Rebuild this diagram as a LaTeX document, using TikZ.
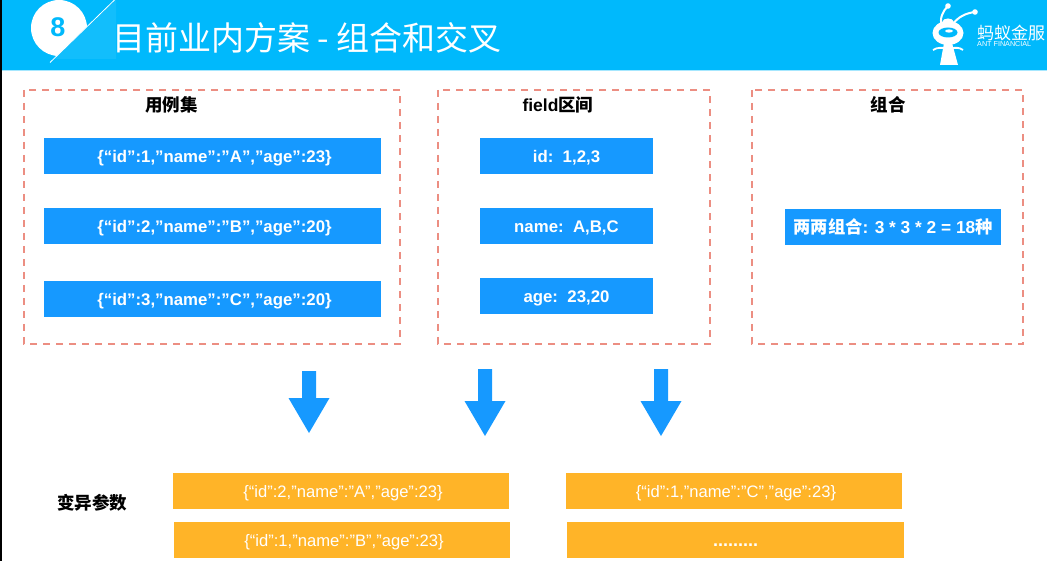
\documentclass[tikz,border=0pt]{standalone}
\usepackage{fontspec}
\setmainfont{Liberation Sans}
\newfontfamily\cjk{Noto Sans CJK SC}
\usepackage{xcolor}
\definecolor{headblue}{HTML}{00B9FC}
\definecolor{boxblue}{HTML}{1699FF}
\definecolor{boxorange}{HTML}{FFB428}
\definecolor{dashred}{HTML}{EC8E82}
\usetikzlibrary{positioning}

\begin{document}
\begin{tikzpicture}[
        x=1pt, y=-1pt,
        groupbox/.style={draw=dashred, dash pattern=on 7pt off 6pt, line width=1.1pt},
        grouptitle/.style={font=\fontsize{17.5}{18}\selectfont\bfseries\cjk, inner sep=0pt, text=black},
        bluebox/.style={fill=boxblue, text=white, minimum height=36pt, inner sep=0pt, text height=14pt, text depth=1pt, font=\fontsize{16.8}{18}\selectfont\bfseries},
        orangebox/.style={fill=boxorange, text=white, minimum height=36pt, minimum width=336pt, inner sep=0pt, text height=14pt, text depth=1pt, font=\fontsize{16.6}{18}\selectfont},
        jsontext/.style={execute at begin node=\hspace*{4pt}},
        downarrow/.style={fill=boxblue}
    ]
    \useasboundingbox (0,0) rectangle (1047,561);
    % header
    \fill[black] (0,0) rectangle (2.2,561);
    \fill[headblue] (2.2,0) rectangle (1047,70);
    \fill[headblue!35!white] (2.2,70) rectangle (1047,71.2);
    \fill[white!7!headblue] (54,59) -- (116,0) -- (116,59) -- cycle;
    \fill[white] (59,28) circle (28);
    \fill[white!7!headblue] (53.6,59) -- (87,26.6) -- (90,59) -- cycle;
    \draw[white, line width=.8pt] (50,62.5) -- (114.5,0);
    \node[inner sep=0pt, text=headblue, font=\fontsize{27}{27}\selectfont\bfseries] (secnum) at (58,27) {8};
    \node[anchor=west, inner sep=0pt, text=white, font=\fontsize{33}{34}\selectfont] (pagetitle) at (112,38)
        {\cjk 目前业内方案 - 组合和交叉};
    % logo
    \draw[white, line width=2pt, line cap=round] (942,27) .. controls (939,18) and (943,11) .. (948,6);
    \draw[white, line width=2pt, line cap=round] (953,24) .. controls (958,17) and (966,13) .. (975,12);
    \fill[white] (948,6) circle (2.8) (975,12) circle (2.8);
    \fill[white] (948,33) ellipse (15.5 and 12);
    \fill[white] (948,21.5) ellipse (5.5 and 3);
    \fill[headblue] (948,32.5) ellipse (9.5 and 5);
    \fill[white] (949,31) ellipse (4 and 1.6);
    \fill[white] (944,43) -- (952,43) -- (958,65) -- (940,65) -- cycle;
    \draw[white, line width=1.8pt] (933,50) .. controls (938,47) and (941,48) .. (946,48);
    \draw[white, line width=1.8pt] (963,50) .. controls (959,47) and (956,48) .. (951,48);
    \node[anchor=west, inner sep=0pt, text=white, font=\fontsize{17}{18}\selectfont\cjk] (logotext) at (977,33) {蚂蚁金服};
    \node[anchor=west, inner sep=0pt, text=white, font=\fontsize{7.2}{9}\selectfont] (logosub) at (977,44.5) {ANT FINANCIAL};
    % dashed groups
    \draw[groupbox] (24,90) rectangle (400,344);
    \draw[groupbox] (438,90) rectangle (710,344);
    \draw[groupbox] (752,90) rectangle (1023,344);
    \node[grouptitle] (casestitle) at (171.5,105) {用例集};
    \node[grouptitle] (fieldtitle) at (558,105) {\rmfamily\bfseries field\cjk 区间};
    \node[grouptitle] (combotitle) at (888,105) {组合};
    % blue boxes
    \node[bluebox, jsontext, minimum width=337pt] (caseone) at (212.5,156) {\{“id”:1,”name”:”A”,”age”:23\}};
    \node[bluebox, jsontext, minimum width=337pt] (casetwo) at (212.5,226) {\{“id”:2,”name”:”B”,”age”:20\}};
    \node[bluebox, jsontext, minimum width=337pt] (casethree) at (212.5,299) {\{“id”:3,”name”:”C”,”age”:20\}};
    \node[bluebox, minimum width=173pt] (fieldid) at (566.5,156) {id:\ \ 1,2,3};
    \node[bluebox, minimum width=173pt] (fieldname) at (566.5,226) {name:\ \ A,B,C};
    \node[bluebox, minimum width=173pt] (fieldage) at (566.5,296.5) {age:\ \ 23,20};
    \node[bluebox, minimum width=216pt, font=\fontsize{17.3}{18}\selectfont\bfseries] (combo) at (893,227) {{\cjk 两两组合}: 3 * 3 * 2 = 18{\cjk 种}};
    % arrows
    \foreach \ax/\ay/\ah in {309/371/62, 485/369/67, 661/369/67}
        \fill[downarrow] (\ax-7,\ay) -- (\ax+7,\ay) -- (\ax+7,\ay+\ah-35) -- (\ax+20.5,\ay+\ah-35)
            -- (\ax,\ay+\ah) -- (\ax-20.5,\ay+\ah-35) -- (\ax-7,\ay+\ah-35) -- cycle;
    % mutated params
    \node[grouptitle] (mutatetitle) at (92,503) {变异参数};
    \node[orangebox, jsontext] (mutone) at (341,491) {\{“id”:2,”name”:”A”,”age”:23\}};
    \node[orangebox, jsontext] (muttwo) at (342,540) {\{“id”:1,”name”:”B”,”age”:23\}};
    \node[orangebox, jsontext] (mutthree) at (734,491) {\{“id”:1,”name”:”C”,”age”:23\}};
    \node[orangebox, minimum width=337pt, font=\fontsize{18}{18}\selectfont\bfseries] (mutfour) at (735.5,540) {.........};
\end{tikzpicture}
\end{document}
